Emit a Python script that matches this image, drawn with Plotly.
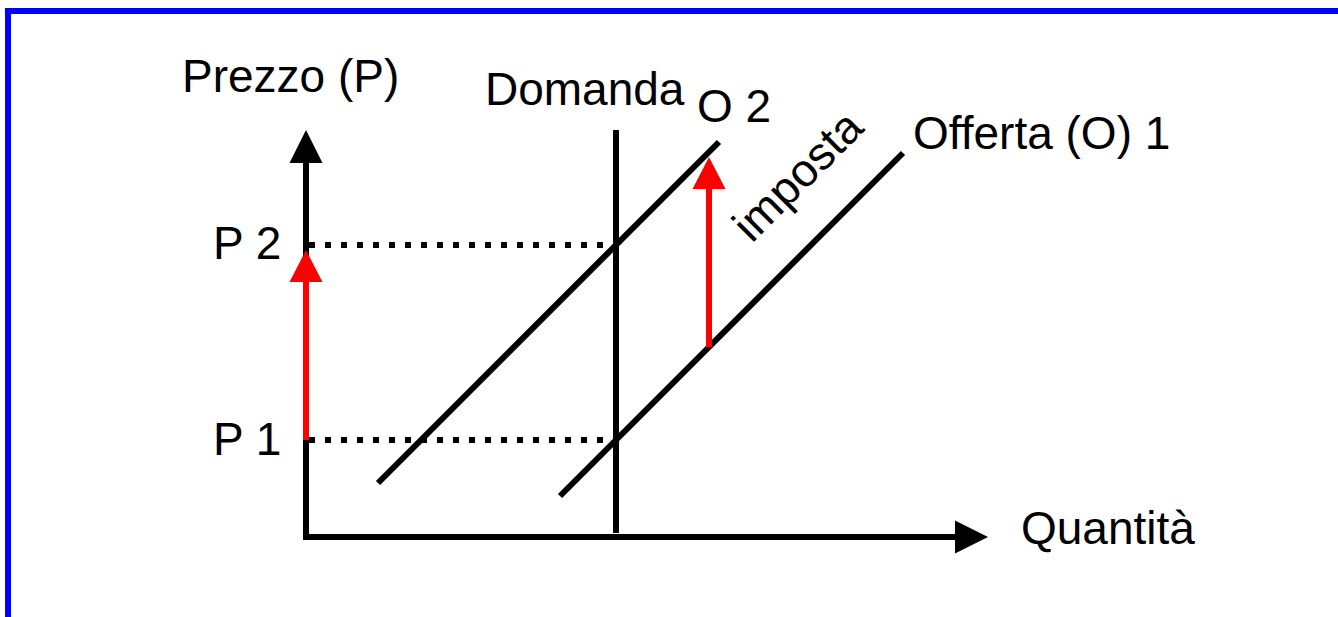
import plotly.graph_objects as go

# diagram units: 1 unit on each axis, origin at the corner of the axes
axis_x_end = 68.2          # tip of the quantity arrow
axis_y_end = 40.7          # tip of the price arrow

p1 = 9.7                   # price before the tax
p2 = 29.2                  # price after the tax
q_domanda = 31.0           # vertical (rigid) demand

offerta1_x = [25.4, 59.7]  # supply before the tax: y = x - 21.3
offerta1_y = [4.1, 38.4]
offerta2_x = [7.2, 41.3]   # supply after the tax: y = x - 1.8
offerta2_y = [5.4, 39.5]

imposta_x = 40.3           # where the tax arrow is drawn
imposta_from = 19.0
imposta_to = 38.0

font = "Liberation Sans, Arial, sans-serif"
fs = 46
lw = 6
head = 1.65   # half width of arrow heads (units)

fig = go.Figure()

def line(x, y, color="black", dash=None):
    fig.add_trace(go.Scatter(x=x, y=y, mode="lines", hoverinfo="skip",
                             line=dict(color=color, width=lw, dash=dash)))

def tri(x, y, color):
    fig.add_trace(go.Scatter(x=x + [x[0]], y=y + [y[0]], mode="lines", fill="toself",
                             fillcolor=color, line=dict(color=color, width=0), hoverinfo="skip"))

# axes
line([0, 0], [-0.3, axis_y_end - 3.0])
tri([-head, head, 0], [axis_y_end - 3.3, axis_y_end - 3.3, axis_y_end], "black")
line([-0.3, axis_x_end - 3.0], [0, 0])
tri([axis_x_end - 3.3, axis_x_end - 3.3, axis_x_end], [-head, head, 0], "black")

# dotted price levels
line([0.3, q_domanda], [p2, p2], dash="6px,10px")
line([0.3, q_domanda], [p1, p1], dash="6px,10px")

# demand and supply
line([q_domanda, q_domanda], [0.4, axis_y_end])
line(offerta1_x, offerta1_y)
line(offerta2_x, offerta2_y)

# red arrows
line([0, 0], [p1, p2 - 3.5], color="red")
tri([-head, head, 0], [p2 - 3.7, p2 - 3.7, p2 - 0.5], "red")
line([imposta_x, imposta_x], [imposta_from, imposta_to - 3.0], color="red")
tri([imposta_x - head, imposta_x + head, imposta_x],
    [imposta_to - 3.2, imposta_to - 3.2, imposta_to], "red")

labels = [
    ("Prezzo (P)", -1.6, 46.1, "center", 0),
    ("Domanda", 27.9, 44.8, "center", 0),
    ("O 2", 42.8, 43.1, "center", 0),
    ("Offerta (O) 1", 73.5, 40.4, "center", 0),
    ("P 2", -2.3, p2 + 0.2, "right", 0),
    ("P 1", -2.3, p1 + 0.1, "right", 0),
    ("Quantità", 80.2, 0.9, "center", 0),
    ("imposta", 49.1, 36.1, "center", -45),
]
for text, x, y, xa, ang in labels:
    fig.add_annotation(x=x, y=y, text=text, showarrow=False, xanchor=xa, yanchor="middle",
                       textangle=ang, font=dict(family=font, size=fs, color="black"))

# blue frame (top and left edges)
fig.add_shape(type="line", xref="paper", yref="paper", x0=0.0037, x1=1, y0=0.9822, y1=0.9822,
              line=dict(color="#0000ff", width=6))
fig.add_shape(type="line", xref="paper", yref="paper", x0=0.006, x1=0.006, y0=0, y1=0.987,
              line=dict(color="#0000ff", width=6))

fig.update_layout(
    width=1338, height=617,
    margin=dict(l=0, r=0, t=0, b=0),
    paper_bgcolor="white", plot_bgcolor="white",
    showlegend=False,
    xaxis=dict(range=[-30.6, 103.2], visible=False, fixedrange=True),
    yaxis=dict(range=[-8.0, 53.7], visible=False, fixedrange=True),
)

# drop the default page margin so the figure sits at the top-left corner
fig.write_html("out.html", config={"displayModeBar": False},
               post_script="document.body.style.margin='0';")
